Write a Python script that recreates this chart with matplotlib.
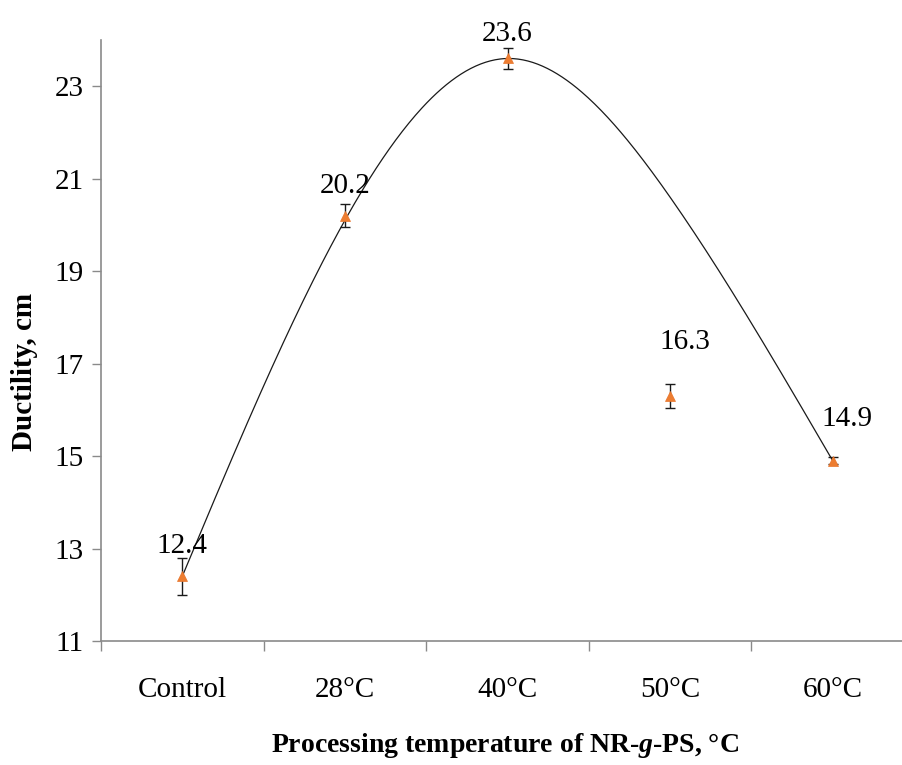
import numpy as np
import matplotlib
matplotlib.use("Agg")
import matplotlib.pyplot as plt

# Ductility of the blend for each processing temperature
categories = ["Control", "28\u00b0C", "40\u00b0C", "50\u00b0C", "60\u00b0C"]
ductility = [12.4, 20.2, 23.6, 16.3, 14.9]
ductility_err = [0.40, 0.25, 0.22, 0.25, 0.08]

# Knots of the smoothed trend curve drawn through the series
trend_knots = [12.4, 20.1, 23.6, 20.6, 14.9]

yticks = [11, 13, 15, 17, 19, 21, 23]

label_offsets = [(0, 30), (0, 30), (0, 24), (15, 54), (14, 42)]  # px


def natural_spline(xk, yk, xs):
    xk = np.asarray(xk, float)
    yk = np.asarray(yk, float)
    n = len(xk)
    h = np.diff(xk)
    A = np.zeros((n, n))
    b = np.zeros(n)
    A[0, 0] = A[-1, -1] = 1.0
    for i in range(1, n - 1):
        A[i, i - 1] = h[i - 1]
        A[i, i] = 2 * (h[i - 1] + h[i])
        A[i, i + 1] = h[i]
        b[i] = 6 * ((yk[i + 1] - yk[i]) / h[i] - (yk[i] - yk[i - 1]) / h[i - 1])
    M = np.linalg.solve(A, b)
    idx = np.clip(np.searchsorted(xk, xs) - 1, 0, n - 2)
    x0, x1 = xk[idx], xk[idx + 1]
    hh = x1 - x0
    t0, t1 = x1 - xs, xs - x0
    return (M[idx] * t0**3 / (6 * hh) + M[idx + 1] * t1**3 / (6 * hh)
            + (yk[idx] / hh - M[idx] * hh / 6) * t0
            + (yk[idx + 1] / hh - M[idx + 1] * hh / 6) * t1)


plt.rcParams["font.family"] = ["Liberation Serif", "DejaVu Serif"]
plt.rcParams["mathtext.fontset"] = "custom"
plt.rcParams["mathtext.rm"] = "Liberation Serif"
plt.rcParams["mathtext.it"] = "Liberation Serif:italic"
plt.rcParams["mathtext.bf"] = "Liberation Serif:bold"
plt.rcParams["mathtext.bfit"] = "Liberation Serif:bold:italic"

W, H = 902, 765
fig = plt.figure(figsize=(W / 100, H / 100), dpi=100)
ax = fig.add_axes([101 / W, 124 / H, 813 / W, 601 / H])

x = np.arange(len(categories))
xs = np.linspace(0, len(categories) - 1, 400)
ax.plot(xs, natural_spline(x, trend_knots, xs), color="#1a1a1a", lw=0.9, zorder=2)

ax.errorbar(x, ductility, yerr=ductility_err, fmt="none", ecolor="#1a1a1a",
            elinewidth=1.0, capsize=3.5, capthick=1.0, zorder=3)
ax.plot(x, ductility, linestyle="none", marker="^", markersize=7.5,
        color="#ED7D31", markeredgecolor="#E8742A", markeredgewidth=0.5, zorder=4)

for xi, v, (dx, dy) in zip(x, ductility, label_offsets):
    ax.annotate(f"{v:.1f}", (xi, v), xytext=(dx * 0.72, dy * 0.72),
                textcoords="offset points", ha="center", va="center",
                fontsize=21, color="black")

ax.set_xlim(-0.5, len(categories) - 0.5)
ax.set_ylim(11, 24)

ax.set_yticks(yticks)
ax.set_yticklabels([str(t) for t in yticks], fontsize=21)
ax.tick_params(axis="y", direction="out", length=6.5, width=1.0, color="#8a8a8a", pad=6)

ax.set_xticks(x)
ax.set_xticklabels(categories, fontsize=21)
ax.tick_params(axis="x", which="major", length=0, pad=26)
ax.set_xticks(np.arange(-0.5, len(categories) + 0.5, 1.0), minor=True)
ax.tick_params(axis="x", which="minor", direction="out", length=7.5, width=1.0, color="#8a8a8a")

for side in ("top", "right"):
    ax.spines[side].set_visible(False)
for side in ("left", "bottom"):
    ax.spines[side].set_color("#8a8a8a")
    ax.spines[side].set_linewidth(1.2)

fig.text(25 / W, 1 - 372 / H, "Ductility, cm", rotation=90, ha="center", va="center",
         fontsize=21, fontweight="bold")
fig.text(505 / W, 1 - 745 / H, r"Processing temperature of NR-$\boldsymbol{g}$-PS, °C",
         ha="center", va="center", fontsize=20, fontweight="bold")

fig.savefig("out.png", dpi=100)
